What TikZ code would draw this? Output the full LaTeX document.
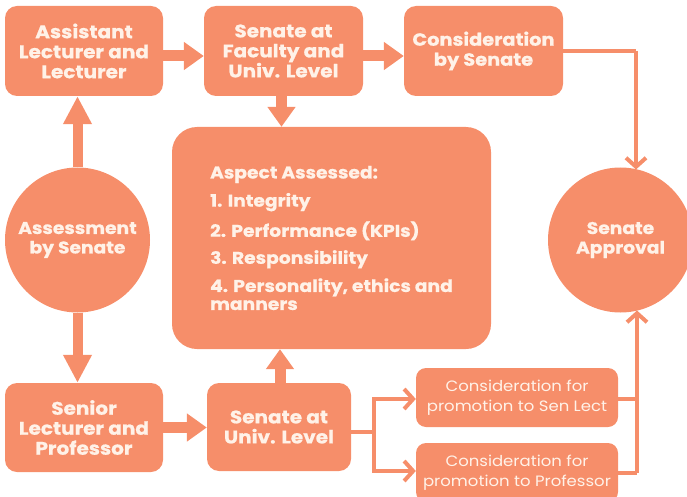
\documentclass[tikz,border=0pt]{standalone}
\usepackage{fontspec}
\setmainfont{Poppins}[FakeStretch=1.1, BoldFeatures={FakeBold=0.7}]
\usetikzlibrary{arrows.meta,shapes.geometric}
\definecolor{org}{RGB}{246,142,106}
\definecolor{crm}{RGB}{255,242,232}
\begin{document}
\begin{tikzpicture}[x=1pt,y=-1pt,
  box/.style={fill=org, text=crm, rounded corners=12pt, align=center, inner sep=0pt,
    font=\bfseries\fontsize{18.2}{20}\selectfont},
  cbox/.style={fill=org, text=crm, rounded corners=10pt, align=center, inner sep=0pt,
    font=\fontsize{15}{19.5}\selectfont, minimum width=202pt, minimum height=59pt},
  circ/.style={circle, fill=org, text=crm, align=center, inner sep=0pt, minimum size=145pt,
    font=\bfseries\fontsize{17}{19.5}\selectfont},
  blk/.style={draw=org, line width=11pt, -{Triangle[width=27pt,length=20pt]}},
  blkl/.style={draw=org, line width=10pt, -{Triangle[width=27pt,length=28pt]}},
  thin/.style={draw=org, line width=4pt},
  thinar/.style={draw=org, line width=4pt, -{Straight Barb[width=20pt,length=9pt]}}]
\useasboundingbox (0,0) rectangle (687,497);
\begin{scope}
\clip (0,0) rectangle (687,497);
\node[box, minimum width=158pt, minimum height=90pt] (al) at (84,51) {Assistant\\Lecturer and\\Lecturer};
\node[box, minimum width=159pt, minimum height=90pt] (sf) at (283.5,51) {Senate at\\Faculty and\\Univ. Level};
\node[box, minimum width=159pt, minimum height=90pt, font=\bfseries\fontsize{17.6}{20}\selectfont] (cs) at (483.5,51) {Consideration\\by Senate};
\node[box, rounded corners=25pt, minimum width=319pt, minimum height=222pt, align=left,
  font=\bfseries\fontsize{17}{18}\selectfont] (big) at (331.5,238)
  {Aspect Assessed:\\[9pt]1. Integrity\\[9pt]2. Performance (KPIs)\\[9pt]3. Responsibility\\[9pt]4. Personality, ethics and\\manners};
\node[circ] (as) at (77.5,240) {Assessment\\by Senate};
\node[circ] (sa) at (620.5,240) {Senate\\Approval};
\node[box, minimum width=158pt, minimum height=89pt] (sl) at (84,427.5) {Senior\\Lecturer and\\Professor};
\node[box, minimum width=144pt, minimum height=88pt] (su) at (279,427) {Senate at\\Univ. Level};
\node[cbox] (csl) at (517,397.5) {Consideration for\\promotion to Sen Lect};
\node[cbox] (cp) at (517,472.5) {Consideration for\\promotion to Professor};
% block arrows
\draw[blk] ([yshift=-5pt]al.east) -- ([yshift=-5pt]sf.west);
\draw[blk] ([yshift=-5pt]sf.east) -- ([yshift=-5pt]cs.west);
\draw[blk] ([xshift=-2pt]sf.south) -- ([xshift=-2pt]sf.south |- big.north);
\draw[blk] ([xshift=1pt]su.north) -- ([xshift=1pt]su.north |- big.south);
\draw[blk] (sl.east) -- (sl.east -| su.west);
\draw[blkl] (as.north) -- (as.north |- al.south);
\draw[blkl] (as.south) -- (as.south |- sl.north);
% thin connectors
\coordinate (r1) at (636,51);
\coordinate (sat) at (636,169.5);
\coordinate (r2) at (637,473);
\coordinate (sab) at (637,310.5);
\coordinate (bj) at (374,432);
\draw[thin] (cs.east |- r1) -- (r1);
\draw[thinar] (r1) -- (sat);
\draw[thin] (cp.east |- r2) -- (r2);
\draw[thin] (csl.east |- 0,399) -- (637,399);
\draw[thinar] (r2) -- (sab);
\draw[thin] (su.east |- bj) -- (bj);
\draw[thin] (374,397) -- (374,473);
\draw[thinar] (372,399) -- (374,399) -- (csl.west |- 0,399);
\draw[thinar] (372,471) -- (374,471) -- (cp.west |- 0,471);
\end{scope}
\end{tikzpicture}
\end{document}
